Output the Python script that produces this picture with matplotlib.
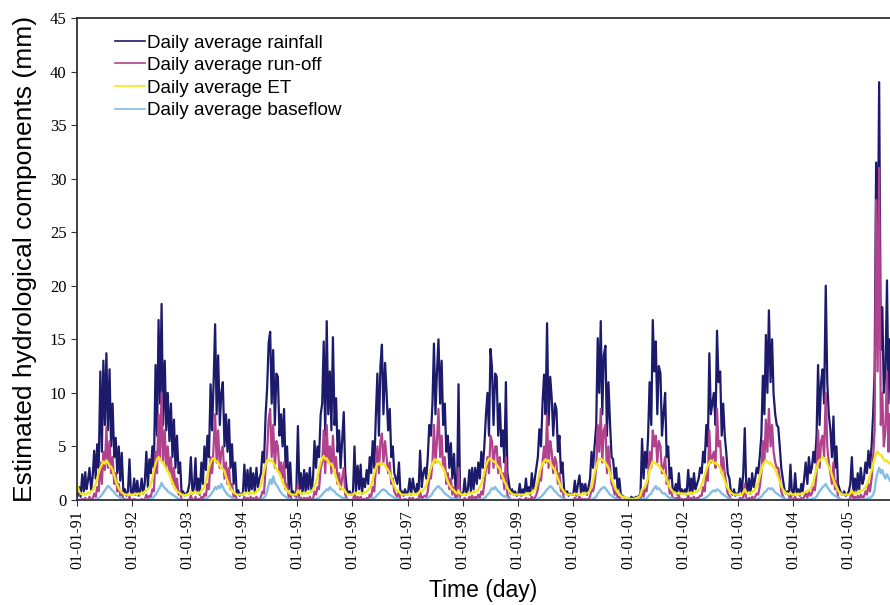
import matplotlib
matplotlib.use("Agg")
import matplotlib.pyplot as plt
import matplotlib.dates as mdates
import pandas as pd

# 10-day (dekad) values, one row per year 1991..2005
rainfall = [
    0.4, 1.2, 0.3, 2.4, 0.8, 2.6, 1.0, 1.8, 3.0, 0.9, 2.2, 4.6, 2.0, 5.2, 3.0, 12.0, 4.5, 13.0, 7.0, 13.7, 6.5, 12.2, 5.0, 9.0, 4.0, 5.8, 2.5, 5.0, 1.8, 4.4, 0.6, 1.0, 0.4, 0.8, 3.8, 0.5,
    0.6, 2.0, 0.5, 1.8, 0.4, 0.9, 2.0, 0.6, 1.5, 4.5, 1.2, 3.8, 2.5, 5.0, 3.0, 12.6, 6.0, 16.8, 9.0, 18.3, 7.0, 13.0, 6.5, 10.0, 5.5, 9.0, 4.0, 7.5, 3.0, 6.0, 2.5, 3.5, 0.5, 0.8, 0.4, 0.6,
    0.8, 1.5, 4.0, 0.6, 1.2, 3.9, 0.8, 2.0, 0.5, 3.5, 1.5, 5.0, 2.8, 6.0, 4.0, 10.8, 6.5, 11.0, 16.4, 8.0, 13.5, 7.0, 10.0, 11.0, 5.0, 8.0, 4.5, 7.5, 3.0, 5.2, 1.5, 3.5, 0.6, 0.9, 0.4, 0.6,
    0.5, 3.3, 0.8, 2.8, 0.6, 3.0, 1.0, 2.5, 0.7, 3.0, 1.2, 2.0, 2.5, 4.5, 3.5, 8.0, 10.5, 14.7, 15.7, 9.0, 14.0, 7.0, 11.8, 11.5, 6.0, 8.0, 5.0, 8.5, 3.0, 5.0, 1.0, 3.5, 0.5, 0.8, 0.4, 0.6,
    6.9, 1.0, 2.5, 0.6, 2.8, 0.8, 2.5, 1.0, 3.0, 0.8, 2.0, 5.5, 3.0, 5.0, 4.0, 8.0, 9.0, 14.8, 6.0, 16.7, 8.0, 12.0, 6.5, 15.2, 7.0, 9.5, 4.5, 6.5, 3.0, 5.5, 8.2, 2.5, 1.0, 0.6, 0.8, 0.5,
    0.6, 5.0, 0.8, 3.2, 1.0, 3.3, 0.6, 2.0, 1.2, 2.8, 1.5, 4.0, 2.5, 5.5, 3.0, 8.0, 11.8, 6.0, 12.5, 14.5, 8.0, 12.8, 10.0, 6.5, 8.5, 4.0, 5.0, 2.5, 2.0, 1.5, 3.5, 0.6, 0.8, 0.4, 1.0, 0.5,
    0.8, 2.0, 0.5, 2.0, 1.0, 0.6, 1.5, 0.8, 4.6, 1.2, 2.5, 3.0, 2.0, 4.0, 7.0, 6.0, 9.0, 14.6, 8.0, 12.0, 15.0, 9.0, 13.0, 7.0, 9.0, 4.5, 6.0, 3.0, 5.3, 2.0, 4.3, 1.0, 0.6, 10.8, 0.8, 0.5,
    0.6, 2.0, 0.5, 1.0, 2.8, 0.8, 3.0, 1.0, 3.0, 1.5, 3.5, 2.0, 4.5, 3.0, 5.0, 8.0, 10.0, 6.0, 14.1, 12.3, 7.0, 11.8, 11.5, 6.0, 9.0, 5.0, 6.5, 3.5, 11.0, 2.5, 1.5, 0.6, 1.0, 0.5, 0.8, 0.4,
    0.5, 1.5, 0.4, 1.0, 0.6, 2.0, 0.8, 1.2, 0.5, 2.5, 1.0, 2.0, 3.0, 4.0, 6.6, 5.0, 9.0, 11.7, 8.0, 16.5, 7.0, 11.5, 9.5, 6.0, 9.0, 8.5, 4.5, 6.0, 2.5, 3.5, 1.0, 0.6, 0.8, 0.4, 0.6, 0.5,
    0.5, 1.8, 0.4, 1.5, 2.3, 0.6, 1.5, 0.8, 1.5, 0.5, 1.2, 2.0, 4.5, 3.0, 5.0, 7.0, 15.1, 10.0, 16.7, 8.0, 13.5, 14.4, 6.0, 11.0, 7.0, 4.0, 3.8, 2.0, 3.0, 1.0, 2.0, 0.5, 0.4, 0.3, 0.2, 0.1,
    0.2, 0.1, 0.3, 0.1, 0.2, 0.3, 0.2, 0.4, 0.3, 5.7, 2.0, 4.5, 3.0, 6.0, 11.0, 7.0, 16.8, 12.0, 14.8, 8.0, 12.5, 11.8, 6.0, 8.0, 10.0, 4.0, 5.0, 2.0, 3.0, 1.0, 0.8, 1.5, 0.5, 2.5, 0.6, 1.0,
    0.6, 1.0, 0.5, 2.8, 0.8, 2.0, 0.6, 2.5, 1.0, 1.5, 2.0, 3.0, 2.5, 4.5, 3.5, 7.0, 5.0, 13.7, 8.0, 9.0, 10.0, 7.0, 15.8, 11.0, 12.0, 6.0, 9.0, 6.0, 4.5, 2.5, 2.0, 0.8, 0.5, 1.0, 0.4, 0.6,
    0.5, 2.0, 0.6, 2.5, 6.7, 1.0, 0.8, 2.0, 0.6, 2.5, 1.2, 2.0, 3.0, 2.5, 4.0, 6.0, 11.6, 8.0, 15.4, 10.0, 17.7, 11.0, 15.0, 9.9, 8.0, 7.0, 6.8, 5.0, 3.0, 2.0, 1.0, 0.6, 0.8, 0.4, 3.3, 0.5,
    0.5, 2.5, 0.6, 1.0, 0.4, 1.5, 0.8, 2.0, 3.5, 1.5, 4.0, 2.5, 3.0, 4.5, 3.5, 6.0, 12.6, 7.0, 11.0, 12.2, 9.0, 20.0, 11.0, 8.0, 6.5, 4.0, 7.8, 3.0, 5.0, 1.5, 1.0, 0.6, 0.5, 0.8, 0.4, 0.5,
    0.8, 1.5, 4.0, 0.6, 2.0, 0.8, 2.5, 1.0, 3.0, 1.5, 2.0, 3.5, 2.5, 4.6, 3.0, 5.0, 8.0, 12.0, 31.5, 20.3, 39.0, 14.0, 18.0, 10.0, 12.0, 20.5, 9.0, 15.0,
]

runoff = [
    0, 0, 0, 0.1, 0, 0.2, 0, 0, 0.3, 0, 0.1, 0.6, 0.3, 1.2, 0.8, 3.5, 1.5, 4.5, 2.8, 6.8, 3.0, 5.5, 2.5, 4.0, 1.5, 2.5, 0.8, 1.5, 0.4, 0.8, 0, 0.1, 0, 0, 0.3, 0,
    0, 0.1, 0, 0, 0, 0, 0.1, 0, 0, 0.5, 0, 0.4, 0.3, 1.0, 0.8, 4.5, 2.5, 8.0, 4.0, 10.0, 3.5, 6.5, 3.0, 5.0, 2.5, 4.0, 1.5, 3.0, 1.0, 2.0, 0.5, 0.8, 0, 0, 0, 0,
    0, 0, 0.4, 0, 0, 0.3, 0, 0.1, 0, 0.3, 0, 0.6, 0.4, 1.5, 1.0, 4.0, 2.5, 5.0, 8.0, 3.5, 6.5, 3.0, 4.5, 5.0, 2.0, 3.5, 1.5, 3.0, 1.0, 1.5, 0.3, 0.6, 0, 0, 0, 0,
    0, 0.3, 0, 0.2, 0, 0.3, 0, 0.2, 0, 0.3, 0, 0.1, 0.3, 0.8, 0.6, 3.0, 4.5, 7.5, 8.5, 4.0, 7.0, 3.0, 5.5, 5.0, 2.5, 3.5, 2.0, 3.5, 1.0, 1.5, 0.2, 0.5, 0, 0, 0, 0,
    1.5, 0.1, 0.2, 0, 0.2, 0, 0.2, 0, 0.3, 0, 0.1, 0.8, 0.5, 1.2, 1.0, 3.0, 3.5, 6.5, 2.5, 7.0, 3.5, 5.0, 2.5, 6.0, 3.0, 4.0, 1.5, 2.5, 1.0, 2.0, 3.0, 0.5, 0.1, 0, 0, 0,
    0, 0.6, 0, 0.3, 0, 0.3, 0, 0.1, 0, 0.2, 0, 0.5, 0.3, 1.2, 0.8, 3.0, 5.0, 2.5, 5.5, 6.2, 3.5, 5.5, 4.0, 2.5, 3.5, 1.5, 2.0, 0.8, 0.5, 0.3, 0.8, 0, 0, 0, 0.1, 0,
    0, 0.2, 0, 0.2, 0, 0, 0.1, 0, 0.8, 0, 0.3, 0.4, 0.3, 0.8, 2.0, 2.0, 3.5, 7.0, 3.5, 5.5, 8.5, 4.0, 6.0, 3.0, 4.0, 1.5, 2.5, 1.0, 2.0, 0.5, 1.2, 0.1, 0, 3.0, 0, 0,
    0, 0.2, 0, 0, 0.3, 0, 0.4, 0, 0.3, 0.1, 0.5, 0.2, 0.8, 0.5, 1.5, 3.0, 4.0, 2.5, 6.0, 5.5, 3.0, 5.0, 5.0, 2.5, 4.0, 2.0, 2.5, 1.0, 4.0, 0.5, 0.2, 0, 0, 0, 0, 0,
    0, 0.1, 0, 0, 0, 0.2, 0, 0.1, 0, 0.3, 0, 0.2, 0.5, 1.0, 2.0, 1.8, 3.5, 5.0, 3.5, 8.0, 3.0, 5.5, 4.5, 2.5, 4.0, 3.5, 1.5, 2.5, 0.8, 1.0, 0.1, 0, 0, 0, 0, 0,
    0, 0.2, 0, 0.1, 0.3, 0, 0.1, 0, 0.1, 0, 0.1, 0.3, 1.0, 0.8, 1.5, 3.0, 7.0, 4.5, 8.5, 3.5, 6.5, 7.0, 2.5, 5.0, 3.0, 1.5, 1.2, 0.5, 0.8, 0.2, 0.3, 0, 0, 0, 0, 0,
    0, 0, 0, 0, 0, 0, 0, 0, 0, 1.0, 0.3, 1.0, 0.8, 2.0, 4.5, 3.0, 6.5, 5.0, 6.0, 3.5, 5.5, 5.0, 2.5, 3.0, 4.0, 1.5, 2.0, 0.6, 0.8, 0.2, 0.1, 0.2, 0, 0.4, 0, 0.1,
    0, 0.1, 0, 0.4, 0, 0.2, 0, 0.3, 0, 0.2, 0.2, 0.4, 0.4, 1.2, 0.8, 2.5, 1.8, 6.5, 3.5, 4.0, 4.5, 3.0, 8.5, 5.0, 5.5, 2.5, 4.0, 2.5, 1.5, 0.6, 0.4, 0, 0, 0, 0, 0,
    0, 0.2, 0, 0.3, 1.5, 0, 0, 0.2, 0, 0.3, 0.1, 0.3, 0.6, 0.5, 1.2, 2.5, 5.5, 3.5, 7.5, 4.5, 8.5, 5.0, 7.0, 4.5, 3.5, 3.0, 3.0, 2.0, 0.8, 0.4, 0.1, 0, 0, 0, 0.6, 0,
    0, 0.3, 0, 0.1, 0, 0.2, 0, 0.3, 0.6, 0.2, 0.8, 0.4, 0.6, 1.2, 0.9, 2.5, 6.5, 3.0, 5.5, 6.0, 4.0, 10.0, 5.0, 3.5, 2.5, 1.5, 3.5, 1.0, 1.8, 0.3, 0.1, 0, 0, 0, 0, 0,
    0, 0.2, 0.8, 0, 0.3, 0, 0.4, 0, 0.5, 0.2, 0.3, 0.8, 0.5, 1.5, 0.8, 2.0, 4.0, 6.5, 28.0, 12.0, 31.0, 7.0, 10.0, 5.0, 6.5, 12.0, 4.5, 8.0,
]

et = [
    1.3, 0.8, 0.6, 0.5, 0.6, 0.5, 0.6, 0.7, 0.6, 0.8, 0.9, 1.2, 1.5, 2.0, 2.6, 3.0, 3.3, 3.6, 3.4, 3.7, 3.5, 3.2, 3.1, 2.8, 2.3, 1.8, 1.4, 1.1, 0.9, 0.7, 0.6, 0.5, 0.5, 0.5, 0.6, 0.5,
    0.5, 0.5, 0.6, 0.5, 0.6, 0.5, 0.7, 0.6, 0.8, 0.9, 1.0, 1.2, 1.5, 2.0, 2.8, 3.4, 3.8, 4.0, 3.8, 3.6, 3.5, 3.2, 2.9, 2.7, 2.4, 2.0, 1.6, 1.3, 1.0, 0.8, 0.7, 0.6, 0.5, 0.5, 0.4, 0.5,
    0.5, 0.6, 0.8, 0.6, 0.7, 0.8, 0.6, 0.7, 0.6, 0.9, 1.0, 1.3, 1.7, 2.3, 3.0, 3.5, 3.8, 3.9, 3.7, 3.6, 3.5, 3.2, 3.0, 2.9, 2.7, 2.2, 1.8, 1.4, 1.1, 0.9, 0.7, 0.6, 0.5, 0.5, 0.5, 0.5,
    0.5, 0.7, 0.6, 0.7, 0.6, 0.7, 0.6, 0.7, 0.6, 0.8, 0.9, 1.1, 1.4, 2.0, 2.7, 3.3, 3.7, 3.8, 3.6, 3.7, 3.5, 3.2, 2.9, 2.7, 2.5, 2.1, 1.7, 1.4, 1.1, 0.9, 0.7, 0.6, 0.5, 0.5, 0.5, 0.5,
    0.9, 0.7, 0.6, 0.6, 0.7, 0.6, 0.7, 0.6, 0.8, 0.8, 1.0, 1.3, 1.6, 2.2, 2.9, 3.5, 3.9, 4.1, 3.8, 3.9, 3.6, 3.3, 3.4, 3.1, 2.6, 2.1, 1.7, 1.4, 1.2, 1.0, 1.0, 0.8, 0.6, 0.5, 0.5, 0.5,
    0.5, 0.7, 0.6, 0.7, 0.6, 0.7, 0.6, 0.6, 0.7, 0.8, 0.9, 1.1, 1.4, 1.9, 2.5, 3.0, 3.4, 3.3, 3.5, 3.3, 3.4, 3.2, 3.0, 2.8, 2.5, 2.1, 1.7, 1.3, 1.0, 0.8, 0.8, 0.6, 0.5, 0.5, 0.5, 0.5,
    0.5, 0.6, 0.5, 0.6, 0.6, 0.5, 0.6, 0.6, 0.9, 0.8, 0.9, 1.1, 1.4, 1.8, 2.5, 3.0, 3.4, 3.7, 3.8, 3.5, 3.6, 3.4, 3.2, 3.0, 2.6, 2.1, 1.7, 1.4, 1.2, 1.0, 0.9, 0.7, 0.6, 0.9, 0.6, 0.5,
    0.5, 0.6, 0.5, 0.6, 0.7, 0.6, 0.7, 0.7, 0.8, 0.8, 1.0, 1.2, 1.5, 1.9, 2.6, 3.2, 3.6, 3.8, 3.9, 3.7, 3.6, 3.5, 3.3, 3.1, 2.9, 2.5, 2.1, 1.7, 1.5, 1.1, 0.9, 0.7, 0.6, 0.5, 0.5, 0.5,
    0.5, 0.5, 0.5, 0.5, 0.5, 0.6, 0.6, 0.6, 0.6, 0.7, 0.8, 1.0, 1.3, 1.8, 2.5, 3.0, 3.4, 3.6, 3.8, 3.6, 3.7, 3.5, 3.2, 3.0, 2.8, 2.4, 2.0, 1.6, 1.2, 1.0, 0.8, 0.6, 0.5, 0.5, 0.5, 0.5,
    0.5, 0.6, 0.5, 0.6, 0.6, 0.5, 0.6, 0.6, 0.6, 0.6, 0.7, 0.9, 1.3, 1.8, 2.5, 3.1, 3.6, 3.8, 3.9, 3.7, 3.6, 3.5, 3.2, 3.0, 2.5, 2.0, 1.6, 1.2, 1.0, 0.7, 0.6, 0.4, 0.3, 0.3, 0.2, 0.2,
    0.2, 0.1, 0.1, 0.1, 0.1, 0.2, 0.2, 0.3, 0.4, 1.0, 1.1, 1.3, 1.6, 2.2, 2.8, 3.2, 3.6, 3.5, 3.4, 3.3, 3.2, 3.0, 2.8, 2.6, 2.3, 1.9, 1.6, 1.2, 1.0, 0.8, 0.7, 0.6, 0.6, 0.7, 0.6, 0.6,
    0.6, 0.6, 0.5, 0.7, 0.6, 0.7, 0.6, 0.7, 0.7, 0.8, 0.9, 1.1, 1.4, 1.8, 2.3, 2.8, 3.2, 3.5, 3.7, 3.6, 3.4, 3.5, 3.3, 3.2, 3.0, 2.6, 2.2, 1.8, 1.4, 1.1, 0.9, 0.7, 0.6, 0.5, 0.5, 0.5,
    0.5, 0.6, 0.5, 0.7, 1.0, 0.7, 0.6, 0.7, 0.6, 0.8, 0.8, 1.0, 1.3, 1.6, 2.2, 2.8, 3.3, 3.5, 3.7, 3.6, 3.4, 3.5, 3.2, 3.1, 2.9, 2.5, 2.1, 1.7, 1.3, 1.0, 0.8, 0.6, 0.6, 0.5, 0.7, 0.5,
    0.5, 0.6, 0.5, 0.6, 0.5, 0.6, 0.6, 0.7, 0.8, 0.8, 0.9, 1.0, 1.3, 1.7, 2.3, 2.9, 3.5, 3.7, 3.8, 4.0, 3.9, 3.8, 3.4, 3.1, 2.8, 2.3, 1.9, 1.5, 1.2, 0.9, 0.7, 0.6, 0.5, 0.5, 0.5, 0.5,
    0.5, 0.6, 0.9, 0.6, 0.7, 0.6, 0.8, 0.7, 0.9, 0.9, 1.0, 1.2, 1.4, 1.8, 2.3, 2.8, 3.4, 3.9, 4.4, 4.5, 4.3, 4.2, 4.0, 3.8, 3.6, 3.7, 3.5, 3.4,
]

baseflow = [
    0, 0, 0, 0, 0, 0, 0, 0, 0, 0, 0, 0, 0.05, 0.1, 0.2, 0.3, 0.5, 0.7, 0.9, 1.1, 1.3, 1.2, 1.0, 0.9, 0.7, 0.5, 0.4, 0.3, 0.2, 0.1, 0.05, 0, 0, 0, 0, 0,
    0, 0, 0, 0, 0, 0, 0, 0, 0, 0.05, 0, 0.05, 0.1, 0.15, 0.3, 0.5, 0.7, 1.0, 1.2, 1.6, 1.3, 1.1, 1.0, 0.8, 0.7, 0.6, 0.5, 0.4, 0.3, 0.2, 0.1, 0.05, 0, 0, 0, 0,
    0, 0, 0, 0, 0, 0, 0, 0, 0, 0, 0, 0.05, 0.1, 0.2, 0.3, 0.5, 0.7, 0.9, 1.2, 1.0, 1.3, 1.1, 1.5, 1.2, 0.9, 0.7, 0.5, 0.4, 0.3, 0.2, 0.1, 0.05, 0, 0, 0, 0,
    0, 0, 0, 0, 0, 0, 0, 0, 0, 0, 0, 0, 0.05, 0.1, 0.2, 0.4, 0.8, 1.4, 1.9, 1.5, 2.2, 1.6, 1.4, 1.2, 0.9, 0.7, 0.5, 0.4, 0.3, 0.2, 0.1, 0.05, 0, 0, 0, 0,
    0.1, 0, 0, 0, 0, 0, 0, 0, 0, 0, 0, 0.05, 0.1, 0.15, 0.2, 0.35, 0.5, 0.7, 0.8, 1.0, 0.9, 1.2, 1.0, 0.9, 0.8, 0.6, 0.5, 0.4, 0.3, 0.2, 0.2, 0.1, 0.05, 0, 0, 0,
    0, 0, 0, 0, 0, 0, 0, 0, 0, 0, 0, 0.05, 0.1, 0.15, 0.2, 0.3, 0.5, 0.6, 0.8, 0.9, 1.0, 0.9, 0.8, 0.6, 0.5, 0.4, 0.3, 0.2, 0.15, 0.1, 0.05, 0, 0, 0, 0, 0,
    0, 0, 0, 0, 0, 0, 0, 0, 0.05, 0, 0, 0.05, 0.1, 0.15, 0.3, 0.4, 0.6, 0.9, 1.0, 1.2, 1.3, 1.1, 1.0, 0.8, 0.6, 0.5, 0.4, 0.3, 0.2, 0.15, 0.1, 0.05, 0, 0.2, 0, 0,
    0, 0, 0, 0, 0, 0, 0, 0, 0, 0, 0.05, 0, 0.05, 0.1, 0.2, 0.3, 0.5, 0.6, 0.9, 1.1, 1.0, 1.2, 1.0, 0.8, 0.7, 0.5, 0.4, 0.3, 0.4, 0.2, 0.1, 0.05, 0, 0, 0, 0,
    0, 0, 0, 0, 0, 0, 0, 0, 0, 0, 0, 0, 0.05, 0.1, 0.2, 0.3, 0.45, 0.6, 0.8, 1.0, 1.1, 1.3, 1.2, 1.0, 0.8, 0.7, 0.5, 0.4, 0.3, 0.2, 0.1, 0.05, 0, 0, 0, 0,
    0, 0, 0, 0, 0, 0, 0, 0, 0, 0, 0, 0, 0.05, 0.1, 0.2, 0.3, 0.6, 0.8, 1.0, 1.1, 1.2, 1.1, 0.9, 0.7, 0.5, 0.4, 0.3, 0.2, 0.1, 0.05, 0, 0, 0, 0, 0, 0,
    0, 0, 0, 0, 0, 0, 0, 0, 0, 0.1, 0.05, 0.1, 0.15, 0.3, 0.5, 0.6, 0.9, 1.1, 1.3, 1.0, 1.1, 0.9, 0.7, 0.6, 0.6, 0.4, 0.3, 0.2, 0.15, 0.1, 0.05, 0, 0, 0, 0, 0,
    0, 0, 0, 0, 0, 0, 0, 0, 0, 0, 0, 0.05, 0.05, 0.1, 0.15, 0.25, 0.35, 0.5, 0.7, 0.8, 0.9, 0.8, 1.0, 0.9, 0.8, 0.6, 0.5, 0.4, 0.3, 0.2, 0.1, 0.05, 0, 0, 0, 0,
    0, 0, 0, 0, 0.1, 0, 0, 0, 0, 0, 0, 0.05, 0.05, 0.1, 0.2, 0.3, 0.5, 0.7, 0.8, 1.0, 1.1, 1.0, 1.1, 0.9, 0.7, 0.6, 0.5, 0.4, 0.3, 0.2, 0.1, 0.05, 0, 0, 0.05, 0,
    0, 0, 0, 0, 0, 0, 0, 0, 0.05, 0, 0.05, 0.05, 0.1, 0.15, 0.2, 0.3, 0.6, 0.8, 1.0, 1.2, 1.3, 1.5, 1.2, 1.0, 0.8, 0.6, 0.5, 0.4, 0.3, 0.2, 0.1, 0.05, 0, 0, 0, 0,
    0, 0, 0.05, 0, 0, 0, 0.05, 0, 0.05, 0, 0.05, 0.1, 0.1, 0.2, 0.2, 0.3, 0.5, 0.9, 2.0, 2.6, 3.0, 2.5, 2.8, 2.3, 2.0, 2.4, 2.1, 1.8,
]

# dekad mid-points from Jan 1991 on
months = pd.date_range("1991-01-01", "2005-12-01", freq="MS")
dates = [m + pd.Timedelta(days=d) for m in months for d in (4, 14, 24)]
dates = dates[:len(rainfall)]

serif = "Liberation Serif"
sans = "Liberation Sans"

fig = plt.figure(figsize=(8.9, 6.05), dpi=100)
ax = fig.add_axes([0.0865, 0.1736, 0.9135, 0.7967])

ax.plot(dates, rainfall, color="#1b1a6b", lw=1.6, label="Daily average rainfall")
ax.plot(dates, runoff, color="#b2418e", lw=1.6, label="Daily average run-off")
ax.plot(dates, et, color="#f3e61c", lw=1.7, label="Daily average ET")
ax.plot(dates, baseflow, color="#86bde2", lw=1.7, label="Daily average baseflow")

ax.set_xlim(pd.Timestamp("1991-01-01"), pd.Timestamp("2005-10-05"))
ax.set_ylim(0, 45)
ax.set_yticks(range(0, 50, 5))
ax.xaxis.set_major_locator(mdates.YearLocator())
ax.xaxis.set_major_formatter(mdates.DateFormatter("%d-%m-%y"))

for lab in ax.get_xticklabels():
    lab.set_rotation(90)
    lab.set_fontfamily(serif)
    lab.set_fontsize(11.5)
for lab in ax.get_yticklabels():
    lab.set_fontfamily(serif)
    lab.set_fontsize(12)

ax.tick_params(direction="out", length=4, width=0.8, colors="#333333")
ax.tick_params(labelcolor="black")
ax.spines["right"].set_visible(False)
for s in ["left", "top", "bottom"]:
    ax.spines[s].set_linewidth(1.3)
    ax.spines[s].set_color("#333333")

ax.set_xlabel("Time (day)", fontsize=16.5, fontfamily=sans, labelpad=7)
ax.set_ylabel("Estimated hydrological components (mm)", fontsize=19,
              fontfamily=sans, labelpad=9)

leg = ax.legend(loc="upper left", bbox_to_anchor=(0.047, 0.966), frameon=False,
                prop={"family": sans, "size": 13.6}, handlelength=1.6,
                handletextpad=0.1, labelspacing=0.28, borderpad=0, borderaxespad=0)
for h in leg.get_lines():
    h.set_linewidth(1.2)

fig.savefig("out.png", dpi=100)
